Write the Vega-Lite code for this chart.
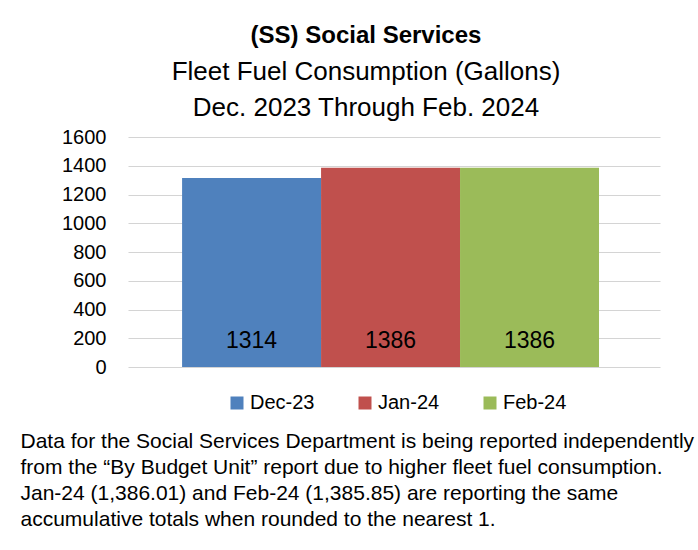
{
  "$schema": "https://vega.github.io/schema/vega-lite/v6.json",
  "background": "white",
  "padding": {"left": 20, "top": 24, "right": 0, "bottom": 0},
  "title": {
    "text": [
      "Data for the Social Services Department is being reported independently",
      "from the “By Budget Unit” report due to higher fleet fuel consumption.",
      "Jan-24 (1,386.01) and Feb-24 (1,385.85) are reporting the same",
      "accumulative totals when rounded to the nearest 1."
    ],
    "orient": "bottom",
    "anchor": "start",
    "frame": "bounds",
    "fontSize": 21,
    "fontWeight": "normal",
    "lineHeight": 26,
    "offset": 18,
    "dx": -41,
    "color": "black"
  },
  "vconcat": [
    {
      "width": 532,
      "height": 230,
      "title": {
        "text": "(SS) Social Services",
        "subtitle": ["Fleet Fuel Consumption (Gallons)", "Dec. 2023 Through Feb. 2024"],
        "anchor": "middle",
        "frame": "group",
        "dx": -28,
        "fontSize": 24,
        "fontWeight": "bold",
        "color": "black",
        "subtitleFontSize": 26,
        "subtitleColor": "black",
        "subtitleLineHeight": 36,
        "subtitlePadding": 11,
        "offset": 6
      },
      "data": {
        "values": [
          {"month": "Dec-23", "gallons": 1314},
          {"month": "Jan-24", "gallons": 1386.01},
          {"month": "Feb-24", "gallons": 1385.85}
        ]
      },
      "encoding": {
        "x": {
          "field": "month",
          "type": "nominal",
          "sort": ["Dec-23", "Jan-24", "Feb-24"],
          "axis": null,
          "scale": {"paddingInner": 0, "paddingOuter": 0.414, "align": 0.47}
        }
      },
      "layer": [
        {
          "mark": {"type": "bar"},
          "encoding": {
            "y": {
              "field": "gallons",
              "type": "quantitative",
              "scale": {"domain": [0, 1600]},
              "axis": {
                "values": [0, 200, 400, 600, 800, 1000, 1200, 1400, 1600],
                "format": "d",
                "labelOverlap": false,
                "title": null,
                "domain": false,
                "ticks": false,
                "tickSize": 0,
                "labelPadding": 22,
                "labelFontSize": 20,
                "labelColor": "black",
                "gridColor": "#d4d4d4",
                "gridWidth": 1.2
              }
            },
            "color": {
              "field": "month",
              "type": "nominal",
              "scale": {
                "domain": ["Dec-23", "Jan-24", "Feb-24"],
                "range": ["#4F81BD", "#C0504D", "#9BBB59"]
              },
              "legend": {
                "title": null,
                "orient": "none",
                "legendX": 99,
                "legendY": 256,
                "direction": "horizontal",
                "symbolType": "square",
                "symbolSize": 169,
                "symbolStrokeWidth": 0,
                "labelFontSize": 20,
                "labelColor": "black",
                "labelOffset": 3,
                "columnPadding": 40
              }
            }
          }
        },
        {
          "mark": {"type": "text", "baseline": "alphabetic", "fontSize": 23, "dy": -19, "color": "black"},
          "encoding": {
            "y": {
              "datum": 0,
              "type": "quantitative",
              "axis": {
                "values": [0, 200, 400, 600, 800, 1000, 1200, 1400, 1600],
                "format": "d",
                "labelOverlap": false,
                "title": null,
                "domain": false,
                "ticks": false,
                "tickSize": 0,
                "labelPadding": 22,
                "labelFontSize": 20,
                "labelColor": "black",
                "gridColor": "#d4d4d4",
                "gridWidth": 1.2
              }
            },
            "text": {"field": "gallons", "type": "quantitative", "format": ".0f"}
          }
        }
      ]
    }
  ],
  "config": {
    "font": "Liberation Sans",
    "view": {"stroke": null}
  }
}
